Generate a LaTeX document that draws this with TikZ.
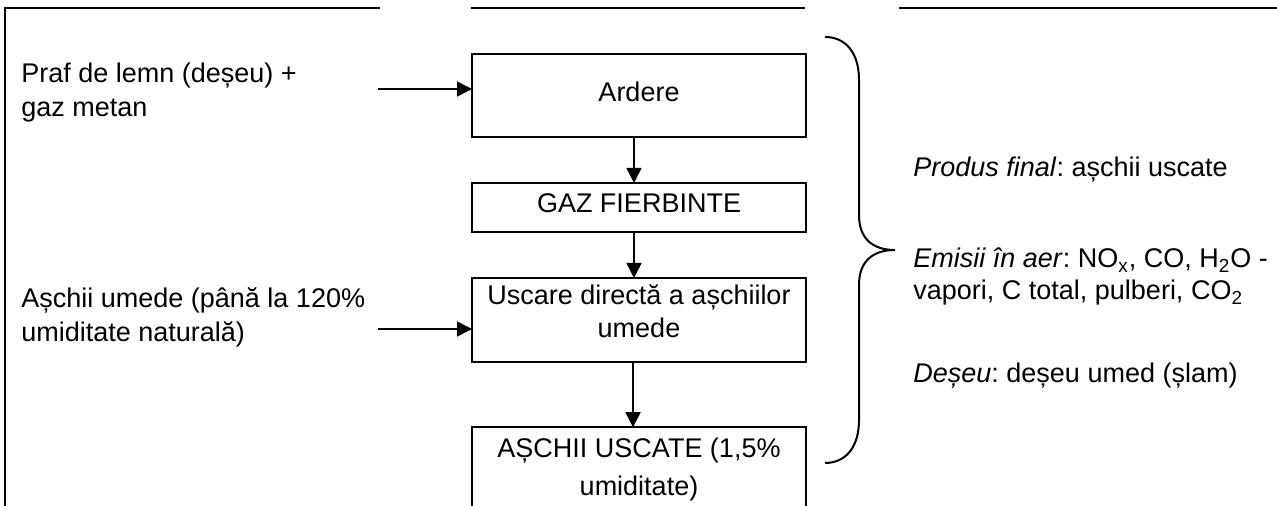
\documentclass[tikz,border=0pt]{standalone}
\usepackage{fontspec}
\setmainfont{Liberation Sans}
\frenchspacing
\usetikzlibrary{positioning, arrows.meta}
\tikzset{
	node distance=23pt,
	>={Triangle[length=7.5pt, width=7.5pt]},
	stepbox/.style={draw, line width=1pt, outer sep=0pt, minimum width=167pt, align=center},
	flow/.style={->, line width=0.75pt},
	note/.style={align=left, inner sep=0pt},
	border/.style={line width=1.3pt}}

\begin{document}
\begin{tikzpicture}[x=0.5pt, y=-0.5pt, font=\fontsize{13.5pt}{16.5pt}\selectfont]

	\useasboundingbox (0,0) rectangle (1277,506);
	\clip (0,0) rectangle (1277,506);

	% table rules
	\draw[border] (5,520) -- (5,8) -- (380,8);
	\draw[border] (471,8) -- (805,8);
	\draw[border] (899,8) -- (1280,8);

	% process steps
	\node[stepbox, minimum height=41.5pt, text depth=3.5pt] (ardere) at (639,95.5) {Ardere};
	\node[stepbox, minimum height=24.5pt, text depth=4pt, below=of ardere] (gaz) {GAZ FIERBINTE};
	\node[stepbox, minimum height=42pt, text depth=9pt, below=of gaz] (uscare) {Uscare directă a așchiilor\\umede};
	\node[stepbox, minimum height=42pt, below=32.5pt of uscare,
		font=\fontsize{13.5pt}{19pt}\selectfont] (uscat) {AȘCHII USCATE (1,5\%\\umiditate)};

	% inputs
	\node[note, anchor=base west, font=\fontsize{13.5pt}{17pt}\selectfont] (praf) at (21,117) {Praf de lemn (deșeu) +\\gaz metan};
	\node[note, anchor=base west, font=\fontsize{13.5pt}{17pt}\selectfont] (umede) at (21,342) {Așchii umede (până la 120\%\\umiditate naturală)};
	\coordinate (in1) at (378,89);
	\coordinate (in2) at (378,329);

	\draw[flow] (in1) -- (in1 -| ardere.west);
	\draw[flow] (in2) -- (in2 -| uscare.west);
	\draw[flow] ([xshift=-2.5pt]ardere.south) -- ([xshift=-2.5pt]gaz.north);
	\draw[flow] ([xshift=-2.5pt]gaz.south) -- ([xshift=-2.5pt]uscare.north);
	\draw[flow] ([xshift=-3pt]uscare.south) -- ([xshift=-3pt]uscat.north);

	% outputs
	\draw[line width=1pt] (825,37) .. controls (845,37) and (859,52) .. (859,80) -- (859,215)
		.. controls (859,238) and (872,250) .. (895,250)
		.. controls (872,250) and (859,262) .. (859,285) -- (859,420)
		.. controls (859,448) and (845,463) .. (825,463);
	\node[note, anchor=base west] (produs) at (913,177) {\textit{Produs final}: așchii uscate};
	\node[note, anchor=base west, font=\fontsize{13.5pt}{16pt}\selectfont] (emisii) at (913,300) {\textit{Emisii în aer}: NO\textsubscript{x}, CO, H\textsubscript{2}O -\\vapori, C total, pulberi, CO\textsubscript{2}};
	\node[note, anchor=base west] (deseu) at (913,383) {\textit{Deșeu}: deșeu umed (șlam)};

\end{tikzpicture}
\end{document}
